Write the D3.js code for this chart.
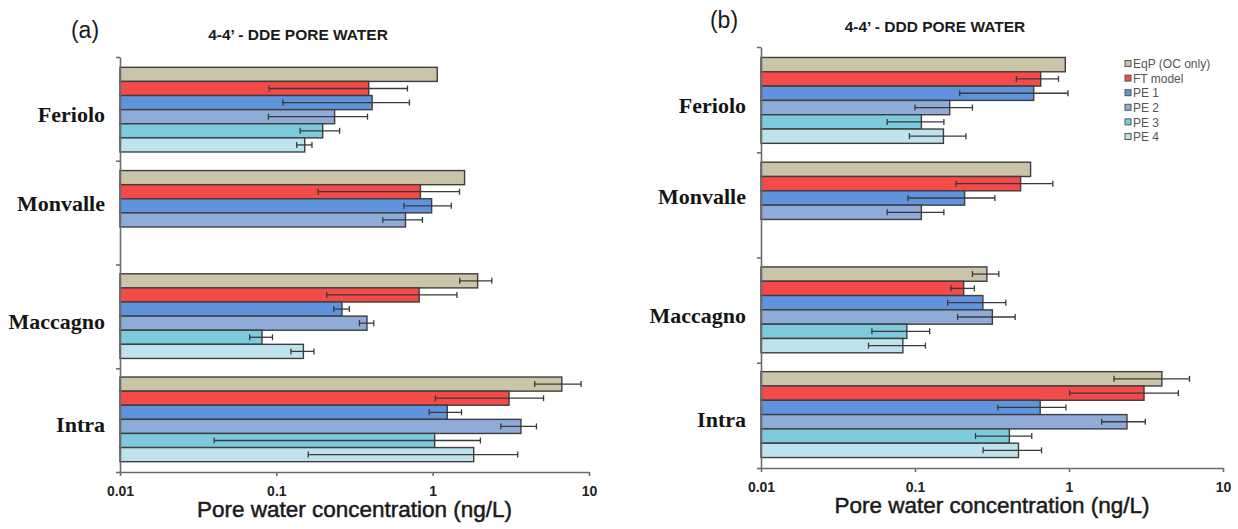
<!DOCTYPE html>
<html>
<head>
<meta charset="utf-8">
<script src="https://cdn.jsdelivr.net/npm/d3@7"></script>
<style>
  html, body { margin: 0; padding: 0; background: #fff; }
  svg { display: block; }
</style>
</head>
<body>
<script>
// Sampling sites and estimation methods
const sites = ["Feriolo", "Monvalle", "Maccagno", "Intra"];
const methods = ["EqP (OC only)", "FT model", "PE 1", "PE 2", "PE 3", "PE 4"];
const methodColors = ["#cbc4a8", "#f44a4a", "#5f94dc", "#8fabd8", "#7ccadb", "#bfe3ec"];
const tickValues = [0.01, 0.1, 1, 10];

// 4-4'-DDE pore water concentrations (ng/L), one value per method; null = not measured
const ddeFeriolo  = [1.07, 0.39, 0.41, 0.236, 0.198, 0.152];
const ddeMonvalle = [1.60, 0.835, 0.985, 0.67, null, null];
const ddeMaccagno = [1.94, 0.82, 0.263, 0.38, 0.081, 0.149];
const ddeIntra    = [6.70, 3.08, 1.24, 3.67, 1.03, 1.83];
// standard deviations
const ddeFerioloErr  = [null, 0.30, 0.30, 0.147, 0.056, 0.017];
const ddeMonvalleErr = [null, 0.65, 0.33, 0.19, null, null];
const ddeMaccagnoErr = [0.45, 0.61, 0.03, 0.04, 0.0135, 0.025];
const ddeIntraErr    = [2.2, 2.04, 0.29, 0.94, 0.99, 1.67];

// 4-4'-DDD pore water concentrations (ng/L)
const dddFeriolo  = [0.946, 0.655, 0.59, 0.168, 0.11, 0.153];
const dddMonvalle = [0.563, 0.485, 0.21, 0.11, null, null];
const dddMaccagno = [0.293, 0.207, 0.276, 0.318, 0.0885, 0.0834];
const dddIntra    = [4.01, 3.07, 0.65, 2.38, 0.41, 0.47];
const dddFerioloErr  = [null, 0.20, 0.395, 0.068, 0.044, 0.061];
const dddMonvalleErr = [null, 0.30, 0.12, 0.044, null, null];
const dddMaccagnoErr = [0.057, 0.036, 0.113, 0.129, 0.036, 0.0335];
const dddIntraErr    = [2.05, 2.06, 0.305, 0.75, 0.163, 0.193];

const W = 1238, H = 529;
const svg = d3.select("body").append("svg").attr("width", W).attr("height", H);

const axisColor = "#6b6b6b";
const outline = "#3e3e3e";
const errColor = "#3a3a3a";

function panel(opts) {
  const { left, right, top, bottom, values, errors, letter, letterPos, title, titlePos } = opts;
  const g = svg.append("g");

  const x = d3.scaleLog().domain([0.01, 10]).range([left, right]);
  const y = d3.scaleBand().domain(sites).range([top, bottom])
    .paddingInner(0.18).paddingOuter(0.1);
  const yInner = d3.scaleBand().domain(methods).range([0, y.bandwidth()]);
  const yEdges = d3.scaleLinear().domain([0, sites.length]).range([top, bottom]);

  // bars
  sites.forEach((site, si) => {
    const vals = values[si], errs = errors[si];
    const rows = methods.map((m, mi) => ({ m, mi, v: vals[mi], e: errs[mi] }))
      .filter(d => d.v != null);
    const grp = g.append("g").attr("transform", `translate(0,${y(site)})`);

    grp.selectAll("rect").data(rows).join("rect")
      .attr("x", x(0.01))
      .attr("y", d => yInner(d.m))
      .attr("width", d => x(d.v) - x(0.01))
      .attr("height", yInner.bandwidth())
      .attr("fill", d => methodColors[d.mi])
      .attr("stroke", outline)
      .attr("stroke-width", 1.4);

    const eb = grp.selectAll("g.err").data(rows.filter(d => d.e != null)).join("g")
      .attr("class", "err")
      .attr("transform", d => `translate(0,${yInner(d.m) + yInner.bandwidth() / 2})`);
    const lo = d => x(Math.max(d.v - d.e, 0.0101));
    const hi = d => x(d.v + d.e);
    eb.append("line").attr("x1", lo).attr("x2", hi).attr("y1", 0).attr("y2", 0)
      .attr("stroke", errColor).attr("stroke-width", 1.3);
    eb.append("line").attr("x1", lo).attr("x2", lo).attr("y1", -3).attr("y2", 3)
      .attr("stroke", errColor).attr("stroke-width", 1.3);
    eb.append("line").attr("x1", hi).attr("x2", hi).attr("y1", -3).attr("y2", 3)
      .attr("stroke", errColor).attr("stroke-width", 1.3);

    // site label centred on the drawn bars
    const firstY = y(site) + yInner(rows[0].m);
    const lastY = y(site) + yInner(rows[rows.length - 1].m) + yInner.bandwidth();
    g.append("text")
      .attr("x", left - 15)
      .attr("y", (firstY + lastY) / 2 + 5)
      .attr("dy", "0.35em")
      .attr("text-anchor", "end")
      .attr("font-family", "'Liberation Serif', 'Times New Roman', serif")
      .attr("font-weight", "bold")
      .attr("font-size", 22)
      .attr("fill", "#151515")
      .text(site);
  });

  // vertical axis with ticks at category boundaries
  const yAxis = g.append("g").attr("transform", `translate(${left},0)`)
    .call(d3.axisLeft(yEdges).tickValues(d3.range(sites.length + 1)).tickFormat("").tickSize(4).tickSizeOuter(0));
  yAxis.selectAll("path, line").attr("stroke", axisColor).attr("stroke-width", 1.6);

  // horizontal log axis
  const xAxis = g.append("g").attr("transform", `translate(0,${bottom})`)
    .call(d3.axisBottom(x).tickValues(tickValues).tickFormat(d => String(d))
      .tickSize(4).tickSizeOuter(0).tickPadding(10));
  xAxis.selectAll("path, line").attr("stroke", axisColor).attr("stroke-width", 1.6);
  xAxis.selectAll("text")
    .attr("font-family", "'Liberation Sans', Arial, sans-serif")
    .attr("font-weight", "bold")
    .attr("font-size", 14)
    .attr("fill", "#222");

  g.append("text")
    .attr("x", (left + right) / 2)
    .attr("y", bottom + 45)
    .attr("text-anchor", "middle")
    .attr("font-family", "'Liberation Sans', Arial, sans-serif")
    .attr("font-size", 22.5)
    .attr("fill", "#1a1a1a")
    .attr("stroke", "#1a1a1a")
    .attr("stroke-width", 0.5)
    .text("Pore water concentration (ng/L)");

  g.append("text")
    .attr("x", letterPos[0]).attr("y", letterPos[1])
    .attr("text-anchor", "middle")
    .attr("font-family", "'Liberation Sans', Arial, sans-serif")
    .attr("font-size", 23)
    .attr("fill", "#1a1a1a")
    .text(letter);

  g.append("text")
    .attr("x", titlePos[0]).attr("y", titlePos[1])
    .attr("text-anchor", "middle")
    .attr("font-family", "'Liberation Sans', Arial, sans-serif")
    .attr("font-weight", "bold")
    .attr("font-size", 15.5)
    .attr("fill", "#1a1a1a")
    .text(title);

  return { x, y };
}

panel({
  left: 120, right: 589, top: 57, bottom: 472,
  values: [ddeFeriolo, ddeMonvalle, ddeMaccagno, ddeIntra],
  errors: [ddeFerioloErr, ddeMonvalleErr, ddeMaccagnoErr, ddeIntraErr],
  letter: "(a)", letterPos: [85, 38],
  title: "4-4’ - DDE PORE WATER", titlePos: [298, 40]
});

panel({
  left: 761, right: 1223, top: 47, bottom: 468,
  values: [dddFeriolo, dddMonvalle, dddMaccagno, dddIntra],
  errors: [dddFerioloErr, dddMonvalleErr, dddMaccagnoErr, dddIntraErr],
  letter: "(b)", letterPos: [724, 28],
  title: "4-4’ - DDD PORE WATER", titlePos: [935, 32]
});

// legend
const legend = svg.append("g").attr("transform", "translate(1125,64)");
const items = legend.selectAll("g").data(methods).join("g")
  .attr("transform", (d, i) => `translate(0,${i * 14.6})`);
items.append("rect")
  .attr("x", 0).attr("y", -3.5).attr("width", 6).attr("height", 6)
  .attr("fill", (d, i) => methodColors[i])
  .attr("stroke", "#555").attr("stroke-width", 1);
items.append("text")
  .attr("x", 8).attr("y", 0).attr("dy", "0.35em")
  .attr("font-family", "'Liberation Sans', Arial, sans-serif")
  .attr("font-size", 12)
  .attr("fill", "#555")
  .text(d => d);
</script>
</body>
</html>
